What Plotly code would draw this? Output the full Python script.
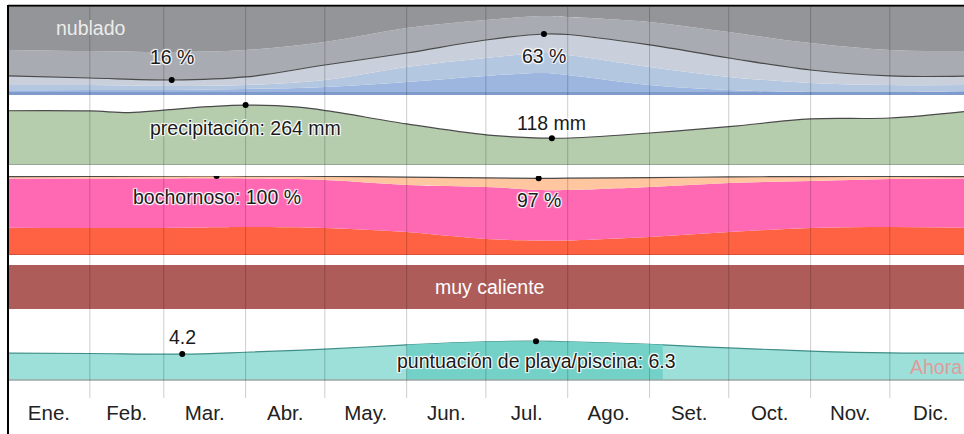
import numpy as np
import plotly.graph_objects as go

# --- data (x = day of year) ---
months = ['Ene.', 'Feb.', 'Mar.', 'Abr.', 'May.', 'Jun.',
          'Jul.', 'Ago.', 'Set.', 'Oct.', 'Nov.', 'Dic.']
month_start = [0, 31, 59, 90, 120, 151, 181, 212, 243, 273, 304, 334, 365]
month_mid = [15.5, 45, 74.5, 105, 135.5, 166, 196.5, 227.5, 258, 288.5, 319, 349.5]

# cloud cover categories, % of time
cloud_days = [0, 31, 62, 90, 120, 151, 181, 203, 212, 243, 273, 304, 334, 365]
cloud_clear = [5.5, 5.8, 5.8, 6.8, 8.8, 13.9, 20.1, 23.1, 21.1, 10.9, 5.8, 3.7, 3.7, 5.0]
cloud_mostly_clear = [5.4, 5.1, 4.1, 4.1, 7.2, 15.4, 18.4, 20.5, 20.4, 18.4, 13.3, 9.3, 7.2, 5.9]
cloud_partly = [9.2, 7.1, 6.1, 8.2, 15.3, 14.3, 18.4, 19.4, 21.0, 22.5, 19.4, 13.2, 9.2, 9.2]
cloud_mostly_cloudy = [26.6, 27.6, 28.6, 27.6, 23.5, 25.5, 20.4, 18.4, 17.9, 23.5, 26.5, 27.6, 26.6, 25.5]
cloud_overcast = [53.3, 54.4, 55.4, 53.3, 45.2, 30.9, 22.7, 18.6, 19.6, 24.7, 35.0, 46.2, 53.3, 54.4]

# rainfall, mm
precip_days = [0, 31, 46, 59, 76, 90, 110, 122, 151, 182, 206, 213, 243, 273, 304, 334, 365]
precip_mm = [239, 238, 231, 242, 257, 264, 255, 237, 181, 132, 118, 119, 141, 169, 203, 207, 239]

# humidity comfort, % of time
muggy_days = [0, 31, 59, 79, 90, 120, 151, 181, 201, 212, 243, 273, 304, 334, 365]
muggy_miserable = [34.5, 34.2, 34.2, 35.0, 35.4, 34.2, 29.1, 20.3, 18.4, 18.4, 22.8, 29.1, 34.2, 35.4, 34.5]
muggy_oppressive = [62.3, 62.6, 62.6, 62.0, 61.4, 60.7, 59.5, 65.8, 63.9, 63.9, 63.3, 62.0, 59.5, 60.8, 62.3]
muggy_muggy = [2.4, 2.7, 3.0, 3.0, 3.1, 4.6, 10.0, 11.5, 14.7, 14.9, 11.9, 7.7, 5.6, 3.3, 2.4]

# temperature category (whole year)
temp_days = [0, 365]
temp_band = [1, 1]
temp_label = 'muy caliente'

# beach / pool score
beach_days = [0, 31, 66, 90, 120, 151, 181, 200, 212, 243, 248, 273, 304, 334, 365]
beach_score = [4.35, 4.3, 4.2, 4.5, 5.0, 5.7, 6.2, 6.3, 6.2, 5.8, 5.7, 5.2, 4.7, 4.4, 4.35]
best_beach = (151, 248)

FONT = 'Liberation Sans, Arial, sans-serif'
HALO = '-1px -1px 1px #fff, 1px -1px 1px #fff, -1px 1px 1px #fff, 1px 1px 1px #fff'
LINE = '#4a4a4a'
LABEL_SIZE = 19.5

fig = go.Figure()

# clouds
for vals, col in [(cloud_clear, '#9db6df'), (cloud_mostly_clear, '#b4c7e1'),
                  (cloud_partly, '#c9d0db'), (cloud_mostly_cloudy, '#a8abb1'),
                  (cloud_overcast, '#939598')]:
    fig.add_trace(go.Scatter(x=cloud_days, y=vals, stackgroup='clouds', mode='none',
                             fillcolor=col, line_shape='spline', yaxis='y5'))
cloud_line = np.array(cloud_clear) + np.array(cloud_mostly_clear) + np.array(cloud_partly)
fig.add_trace(go.Scatter(x=cloud_days, y=cloud_line, mode='lines', line=dict(color=LINE, width=1.2),
                         line_shape='spline', yaxis='y5'))

# precipitation
fig.add_trace(go.Scatter(x=precip_days, y=precip_mm, fill='tozeroy', fillcolor='#b5ccad',
                         mode='lines', line=dict(color=LINE, width=1.2), line_shape='spline',
                         yaxis='y4'))

# humidity
for vals, col in [(muggy_miserable, '#ff6242'), (muggy_oppressive, '#ff69b4'),
                  (muggy_muggy, '#ffc6a0')]:
    fig.add_trace(go.Scatter(x=muggy_days, y=vals, stackgroup='muggy', mode='none',
                             fillcolor=col, line_shape='spline', yaxis='y3'))
muggy_total = np.array(muggy_miserable) + np.array(muggy_oppressive) + np.array(muggy_muggy)
fig.add_trace(go.Scatter(x=muggy_days, y=muggy_total, mode='lines', line=dict(color=LINE, width=1.2),
                         line_shape='spline', yaxis='y3'))

# temperature
fig.add_trace(go.Scatter(x=temp_days, y=temp_band, fill='tozeroy', fillcolor='#ad5c5a',
                         mode='none', yaxis='y2'))

# beach score
fig.add_trace(go.Scatter(x=beach_days, y=beach_score, fill='tozeroy', fillcolor='#9ddfd9',
                         mode='lines', line=dict(color='#3f8f88', width=1.2), line_shape='spline',
                         yaxis='y'))
bd = np.array(beach_days)
best = (bd >= best_beach[0]) & (bd <= best_beach[1])
fig.add_trace(go.Scatter(x=bd[best], y=np.array(beach_score)[best], fill='tozeroy',
                         fillcolor='#74d1c8', mode='none', line_shape='spline', yaxis='y'))

# extreme points with their labels
def mark(days, vals, which, ax, text, shift):
    i = int(np.argmin(vals) if which == 'min' else np.argmax(vals))
    fig.add_trace(go.Scatter(x=[days[i]], y=[vals[i]], mode='markers',
                             marker=dict(color='black', size=6), yaxis=ax))
    fig.add_annotation(x=days[i], y=vals[i], xref='x', yref=ax, yshift=shift,
                       text=text.format(vals[i]), showarrow=False,
                       font=dict(family=FONT, size=LABEL_SIZE, color='#1a1a1a', shadow=HALO))

mark(cloud_days, cloud_line, 'min', 'y5', '{:.0f} %', 23)
mark(cloud_days, cloud_line, 'max', 'y5', '{:.0f} %', -22)
mark(precip_days, precip_mm, 'max', 'y4', 'precipitación: {:.0f} mm', -23)
mark(precip_days, precip_mm, 'min', 'y4', '{:.0f} mm', 15)
mark(muggy_days, muggy_total, 'max', 'y3', 'bochornoso: {:.0f} %', -21)
mark(muggy_days, muggy_total, 'min', 'y3', '{:.0f} %', -22)
mark(beach_days, beach_score, 'min', 'y', '{:.1f}', 17)
mark(beach_days, beach_score, 'max', 'y', 'puntuación de playa/piscina: {:.1f}', -20)

fig.add_annotation(x=31.5, y=0.947, xref='x', yref='paper', xanchor='center', yanchor='middle',
                   text='nublado', showarrow=False,
                   font=dict(family=FONT, size=LABEL_SIZE, color='#ececec'))
fig.add_annotation(x=182.5, y=0.5, xref='x', yref='y2', text=temp_label, showarrow=False,
                   font=dict(family=FONT, size=LABEL_SIZE, color='white'))
fig.add_annotation(x=1.0, y=2.1, xref='paper', yref='y', xanchor='right', yanchor='middle',
                   text='Ahora', showarrow=False,
                   font=dict(family=FONT, size=LABEL_SIZE, color='#e29a9b'))

# band baselines
for ax, y0, col, w in [('y5', 2.1, '#7e9bcb', 3), ('y4', 0, '#8e9c8a', 1.5),
                       ('y3', 0, '#c8503c', 1.5), ('y', 0, '#9aa8a6', 1.5)]:
    fig.add_shape(type='line', xref='paper', x0=0, x1=1, yref=ax, y0=y0, y1=y0,
                  line=dict(color=col, width=w))

# month grid lines over everything
for d in month_start[1:-1]:
    fig.add_shape(type='line', xref='x', x0=d, x1=d, yref='paper', y0=0, y1=1,
                  line=dict(color='rgba(0,0,0,0.2)', width=1))

# frame
fig.add_shape(type='line', xref='paper', x0=0, x1=1, yref='paper', y0=1.003, y1=1.003,
              line=dict(color='black', width=2))
fig.add_shape(type='line', xref='paper', x0=0, x1=0, yref='paper', y0=-0.12, y1=1.005,
              line=dict(color='black', width=2))

hidden = dict(visible=False, showgrid=False, zeroline=False, fixedrange=True)
fig.update_layout(
    width=964, height=434,
    margin=dict(l=8, r=0, t=7, b=36),
    paper_bgcolor='white', plot_bgcolor='white',
    showlegend=False,
    xaxis=dict(range=[0, 362.1], tickvals=month_mid, ticktext=months, showgrid=False,
               zeroline=False, showline=False, ticks='', fixedrange=True,
               tickfont=dict(family=FONT, size=20.5, color='#222')),
    yaxis=dict(domain=[0, 0.2270], range=[-2.91, 11.47], **hidden),
    yaxis2=dict(domain=[0.2276, 0.3402], range=[0, 1], **hidden),
    yaxis3=dict(domain=[0.3657, 0.5678], range=[0, 100], **hidden),
    yaxis4=dict(domain=[0.5959, 0.7724], range=[0, 304], **hidden),
    yaxis5=dict(domain=[0.775, 1.0], range=[0.67, 90.6], **hidden),
)

fig.write_html("out.html", config={'displayModeBar': False},
               post_script="document.body.style.margin = '0';")
